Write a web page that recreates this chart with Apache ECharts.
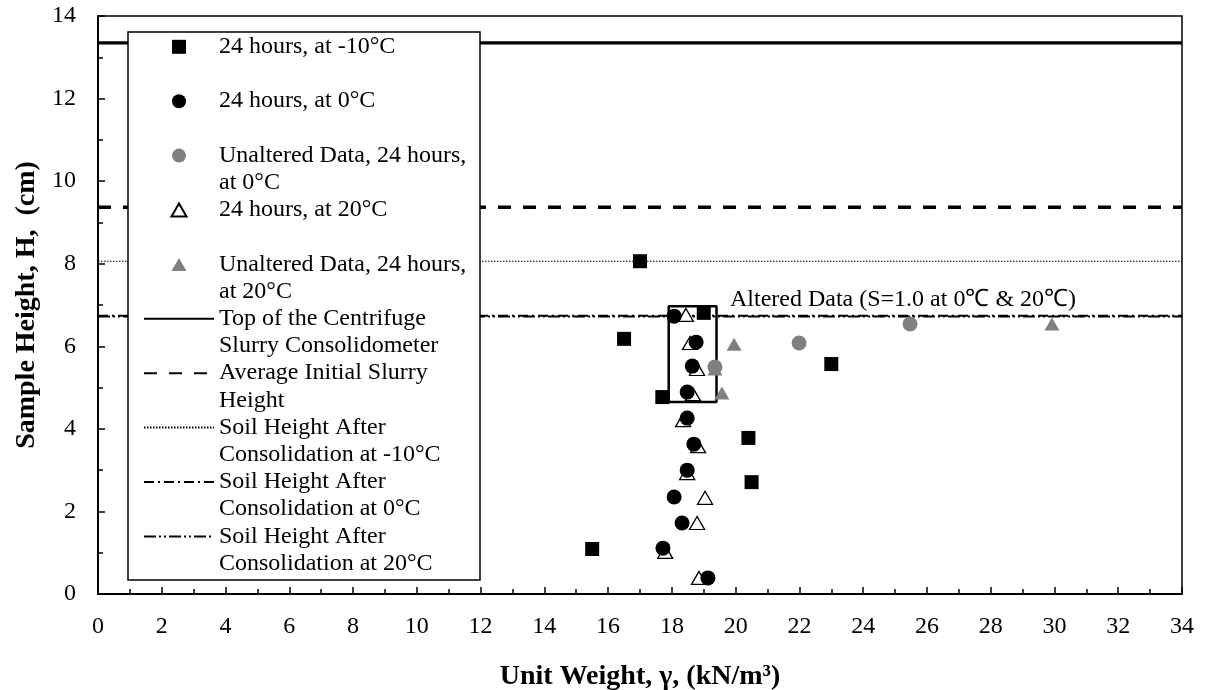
<!DOCTYPE html>
<html>
<head>
<meta charset="utf-8">
<script src="https://cdn.jsdelivr.net/npm/echarts/dist/echarts.min.js"></script>
<style>
  html, body { margin: 0; padding: 0; background: #fff; }
  #chart { width: 1209px; height: 690px; }
</style>
</head>
<body>
<div id="chart"></div>
<script>
// Unit weight (kN/m3) vs. sample height (cm) for each test condition
const ptsMinus10 = [[17.0, 8.06], [16.5, 6.18], [19.0, 6.81], [17.7, 4.77], [23.0, 5.57], [20.4, 3.78], [20.5, 2.71], [15.5, 1.09]];
const pts0 = [[18.07, 6.73], [18.76, 6.10], [18.64, 5.52], [18.48, 4.89], [18.48, 4.26], [18.69, 3.63], [18.48, 3.00], [18.07, 2.35], [18.32, 1.72], [17.72, 1.11], [19.13, 0.39]];
const ptsUnaltered0 = [[19.35, 5.50], [21.99, 6.08], [25.47, 6.54]];
const pts20 = [[18.44, 6.76], [18.57, 6.08], [18.79, 5.45], [18.66, 4.84], [18.35, 4.21], [18.82, 3.58], [18.48, 2.93], [19.04, 2.33], [18.79, 1.72], [17.79, 1.02], [18.85, 0.39]];
const ptsUnaltered20 = [[19.35, 5.45], [19.57, 4.87], [19.95, 6.05], [29.92, 6.54]];

// Reference heights (cm)
const topOfConsolidometer = 13.35;
const avgInitialSlurry = 9.37;
const soilAfterMinus10 = 8.06;
const soilAfter0 = 6.74;
const soilAfter20 = 6.72;

// Outline around the altered data points
const boxX = [17.9, 19.4];
const boxY = [4.65, 6.97];
const annotationPos = [25.25, 7.12];
const annotationText = 'Altered Data (S=1.0 at 0\u2103 & 20\u2103)';

const xRange = [0, 34];
const yRange = [0, 14];

const seriesNames = [
  '24 hours, at -10°C',
  '24 hours, at 0°C',
  'Unaltered Data, 24 hours, at 0°C',
  '24 hours, at 20°C',
  'Unaltered Data, 24 hours, at 20°C',
  'Top of the Centrifuge Slurry Consolidometer',
  'Average Initial Slurry Height',
  'Soil Height After Consolidation at -10°C',
  'Soil Height After Consolidation at 0°C',
  'Soil Height After Consolidation at 20°C'
];
const legendText = [
  ['24 hours, at -10°C', ' '],
  ['24 hours, at 0°C', ' '],
  ['Unaltered Data, 24 hours,', 'at 0°C'],
  ['24 hours, at 20°C', ' '],
  ['Unaltered Data, 24 hours,', 'at 20°C'],
  ['Top of the Centrifuge', 'Slurry Consolidometer'],
  ['Average Initial Slurry', 'Height'],
  ['Soil Height After', 'Consolidation at -10°C'],
  ['Soil Height After', 'Consolidation at 0°C'],
  ['Soil Height After', 'Consolidation at 20°C']
];

// Marker icons sized to the 70x14 legend slot (the leading moves span the slot so the marker is not stretched)
const ICON_SQUARE = 'path://M0,0 M70,14 M28,0 L42,0 L42,14 L28,14 Z';
const ICON_TRIANGLE = 'path://M0,0 M70,14 M35,0.5 L42.5,13.5 L27.5,13.5 Z';
const legendIcons = [ICON_SQUARE, 'circle', 'circle', ICON_TRIANGLE, ICON_TRIANGLE, null, null, null, null, null];

const FONT = "'Liberation Serif', 'Times New Roman', serif";
const GRAY = '#808080';
const LINE_H = 27.2;

function hLine(y) { return [[xRange[0], y], [xRange[1], y]]; }

// Legend entries: scatter ones keep their marker shape, line ones show only the stroke
const legendData = seriesNames.map(function (name, i) {
  if (legendIcons[i]) {
    return { name: name, icon: legendIcons[i] };
  }
  return { name: name, itemStyle: { color: 'rgba(0,0,0,0)', borderColor: 'rgba(0,0,0,0)', borderWidth: 0 } };
});

const chart = echarts.init(document.getElementById('chart'), null, { renderer: 'canvas' });

const option = {
  backgroundColor: '#fff',
  animation: false,
  textStyle: { fontFamily: FONT, color: '#000' },
  grid: {
    left: 98, right: 27, top: 16, bottom: 96,
    outerBoundsMode: 'none',
    containLabel: false,
    show: true, borderColor: '#000', borderWidth: 1.5, backgroundColor: 'transparent'
  },
  xAxis: {
    type: 'value', min: xRange[0], max: xRange[1], interval: 2,
    name: 'Unit Weight, \u03b3, (kN/m\u00b3)', nameLocation: 'middle', nameGap: 69,
    nameTextStyle: { fontFamily: FONT, fontSize: 28, fontWeight: 'bold', color: '#000' },
    axisLine: { show: true, onZero: false, lineStyle: { color: '#000', width: 2 } },
    axisTick: { show: true, inside: true, length: 7, lineStyle: { color: '#000', width: 1.5 } },
    minorTick: { show: true, splitNumber: 2, length: 5, lineStyle: { color: '#000', width: 1.5 } },
    axisLabel: { fontFamily: FONT, fontSize: 24, color: '#000', margin: 21 },
    splitLine: { show: false }, minorSplitLine: { show: false }
  },
  yAxis: {
    type: 'value', min: yRange[0], max: yRange[1], interval: 2,
    name: 'Sample Height, H,  (cm)', nameLocation: 'middle', nameGap: 52,
    nameTextStyle: { fontFamily: FONT, fontSize: 28, fontWeight: 'bold', color: '#000' },
    axisLine: { show: true, onZero: false, lineStyle: { color: '#000', width: 2 } },
    axisTick: { show: true, inside: true, length: 7, lineStyle: { color: '#000', width: 1.5 } },
    minorTick: { show: true, splitNumber: 2, length: 5, lineStyle: { color: '#000', width: 1.5 } },
    axisLabel: { fontFamily: FONT, fontSize: 24, color: '#000', margin: 22 },
    splitLine: { show: false }, minorSplitLine: { show: false }
  },
  legend: {
    orient: 'vertical',
    left: 143, top: 6,
    padding: 0,
    itemWidth: 70, itemHeight: 14,
    itemGap: -LINE_H,
    data: legendData,
    // a leading blank line keeps the first text line level with the marker
    formatter: function (name) { return ' \n' + legendText[seriesNames.indexOf(name)].join('\n'); },
    textStyle: { fontFamily: FONT, fontSize: 24, color: '#000', lineHeight: LINE_H },
    selectedMode: false
  },
  graphic: [{
    type: 'rect', z: 3,
    shape: { x: 128, y: 32, width: 352, height: 548 },
    style: { fill: '#fff', stroke: '#000', lineWidth: 1.5 }
  }],
  series: [
    // reference heights
    { name: seriesNames[5], type: 'line', data: hLine(topOfConsolidometer), symbol: 'none', z: 1,
      itemStyle: { color: '#000' },
      lineStyle: { color: '#000', width: 3.2, type: 'solid' } },
    { name: seriesNames[6], type: 'line', data: hLine(avgInitialSlurry), symbol: 'none', z: 1,
      itemStyle: { color: '#000' },
      lineStyle: { color: '#000', width: 3.5, type: [13, 12] } },
    { name: seriesNames[7], type: 'line', data: hLine(soilAfterMinus10), symbol: 'none', z: 1,
      itemStyle: { color: '#000' },
      lineStyle: { color: '#000', width: 1.2, type: [1.5, 1.5] } },
    { name: seriesNames[8], type: 'line', data: hLine(soilAfter0), symbol: 'none', z: 1,
      itemStyle: { color: '#000' },
      lineStyle: { color: '#000', width: 2, type: [10, 4, 2, 4] } },
    { name: seriesNames[9], type: 'line', data: hLine(soilAfter20), symbol: 'none', z: 1,
      itemStyle: { color: '#000' },
      lineStyle: { color: '#000', width: 2, type: [12, 3, 2, 3, 2, 3] } },
    // measured points
    { name: seriesNames[0], type: 'scatter', data: ptsMinus10, symbol: 'rect', symbolSize: 14, z: 2,
      itemStyle: { color: '#000', opacity: 1 } },
    { name: seriesNames[3], type: 'scatter', data: pts20, symbol: 'triangle', symbolSize: [15, 13], z: 2,
      itemStyle: { color: '#fff', borderColor: '#000', borderWidth: 1.3, opacity: 1 } },
    { name: seriesNames[4], type: 'scatter', data: ptsUnaltered20, symbol: 'triangle', symbolSize: [15, 13], z: 2,
      itemStyle: { color: GRAY, opacity: 1 } },
    { name: seriesNames[1], type: 'scatter', data: pts0, symbol: 'circle', symbolSize: 15, z: 2,
      itemStyle: { color: '#000', opacity: 1 } },
    { name: seriesNames[2], type: 'scatter', data: ptsUnaltered0, symbol: 'circle', symbolSize: 15, z: 2,
      itemStyle: { color: GRAY, opacity: 1 } },
    // outline around altered data
    { name: 'box', type: 'line', symbol: 'none', z: 2,
      data: [[boxX[0], boxY[0]], [boxX[1], boxY[0]], [boxX[1], boxY[1]], [boxX[0], boxY[1]], [boxX[0], boxY[0]]],
      lineStyle: { color: '#000', width: 2.5 } },
    // annotation
    { name: 'note', type: 'scatter', symbolSize: 0, z: 2,
      data: [annotationPos],
      itemStyle: { opacity: 1 },
      label: { show: true, position: 'inside', formatter: annotationText,
               fontFamily: FONT, fontSize: 24, color: '#000', opacity: 1 } }
  ]
};

chart.setOption(option);
</script>
</body>
</html>
